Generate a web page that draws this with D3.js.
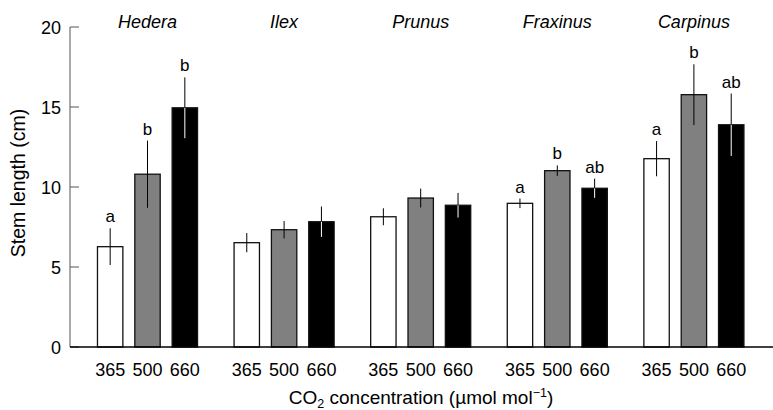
<!DOCTYPE html>
<html>
<head>
<meta charset="utf-8">
<script src="https://cdn.jsdelivr.net/npm/d3@7"></script>
<style>
  body { margin: 0; background: #fff; }
  text { font-family: "Liberation Sans", Arial, sans-serif; fill: #000; }
</style>
</head>
<body>
<div id="chart"></div>
<script>
const species = ["Hedera", "Ilex", "Prunus", "Fraxinus", "Carpinus"];
const co2 = ["365", "500", "660"];
// mean stem length (cm) per species, one value per CO2 level
const means = [
  [6.27, 10.8, 14.95],
  [6.52, 7.33, 7.83],
  [8.14, 9.31, 8.86],
  [8.98, 11.02, 9.92],
  [11.77, 15.77, 13.89]
];
const errors = [
  [1.15, 2.1, 1.9],
  [0.6, 0.54, 0.95],
  [0.53, 0.59, 0.77],
  [0.3, 0.33, 0.6],
  [1.1, 1.9, 1.95]
];
const letters = [
  ["a", "b", "b"],
  ["", "", ""],
  ["", "", ""],
  ["a", "b", "ab"],
  ["a", "b", "ab"]
];
const yTicks = [0, 5, 10, 15, 20];
const fills = ["#ffffff", "#808080", "#000000"];

const width = 773, height = 410;
const mLeft = 70, mBottom = 347, mTop = 27;

const svg = d3.select("#chart").append("svg")
  .attr("width", width).attr("height", height);

const y = d3.scaleLinear().domain([0, 20]).range([mBottom, mTop]);
const x0 = d3.scaleBand().domain(species).range([79.2, 762.2]);
const x1 = d3.scaleBand().domain(co2).range([0, 112])
  .paddingInner(0.32).paddingOuter(0.16);
const off = (x0.bandwidth() - 112) / 2;

// y axis
svg.append("line")
  .attr("x1", mLeft).attr("x2", mLeft)
  .attr("y1", y(20)).attr("y2", mBottom)
  .attr("stroke", "#555").attr("stroke-width", 1);
svg.append("g").selectAll("line").data(yTicks).enter().append("line")
  .attr("x1", mLeft).attr("x2", mLeft + 9)
  .attr("y1", d => y(d)).attr("y2", d => y(d))
  .attr("stroke", "#555");
svg.append("g").selectAll("text").data(yTicks).enter().append("text")
  .attr("x", 61).attr("y", d => y(d) + 6.5)
  .attr("text-anchor", "end").attr("font-size", "18px")
  .text(d => d);

svg.append("text")
  .attr("transform", "translate(25,183) rotate(-90)")
  .attr("text-anchor", "middle").attr("font-size", "19.5px")
  .text("Stem length (cm)");

// bars
const rows = [];
species.forEach((s, i) => co2.forEach((c, j) => rows.push({
  s, c, j, v: means[i][j], e: errors[i][j], l: letters[i][j]
})));
const bx = d => x0(d.s) + off + x1(d.c);

const g = svg.append("g");
g.selectAll("rect").data(rows).enter().append("rect")
  .attr("x", bx)
  .attr("y", d => y(d.v))
  .attr("width", x1.bandwidth())
  .attr("height", d => mBottom - y(d.v))
  .attr("fill", d => fills[d.j])
  .attr("stroke", "#111").attr("stroke-width", 1.3);

// error bars: black above the bar, white inside black bars
g.selectAll(".eup").data(rows).enter().append("line")
  .attr("x1", d => bx(d) + x1.bandwidth() / 2)
  .attr("x2", d => bx(d) + x1.bandwidth() / 2)
  .attr("y1", d => y(d.v + d.e)).attr("y2", d => y(d.v))
  .attr("stroke", "#000").attr("stroke-width", 1);
g.selectAll(".edown").data(rows).enter().append("line")
  .attr("x1", d => bx(d) + x1.bandwidth() / 2)
  .attr("x2", d => bx(d) + x1.bandwidth() / 2)
  .attr("y1", d => y(d.v)).attr("y2", d => y(d.v - d.e))
  .attr("stroke", d => d.j === 2 ? "#fff" : "#000").attr("stroke-width", 1);

g.selectAll(".letter").data(rows.filter(d => d.l)).enter().append("text")
  .attr("x", d => bx(d) + x1.bandwidth() / 2)
  .attr("y", d => y(d.v + d.e) - 6)
  .attr("text-anchor", "middle").attr("font-size", "17px")
  .text(d => d.l);

// x axis
svg.append("line")
  .attr("x1", mLeft).attr("x2", width)
  .attr("y1", mBottom).attr("y2", mBottom)
  .attr("stroke", "#000").attr("stroke-width", 1.3);
svg.append("g").selectAll("text").data(rows).enter().append("text")
  .attr("x", d => bx(d) + x1.bandwidth() / 2)
  .attr("y", 376)
  .attr("text-anchor", "middle").attr("font-size", "18px")
  .text(d => d.c);

svg.append("g").selectAll("text").data(species).enter().append("text")
  .attr("x", d => x0(d) + x0.bandwidth() / 2)
  .attr("y", 28)
  .attr("text-anchor", "middle").attr("font-size", "18px")
  .attr("font-style", "italic")
  .text(d => d);

const xt = svg.append("text")
  .attr("x", 421).attr("y", 404)
  .attr("text-anchor", "middle").attr("font-size", "19px");
xt.append("tspan").text("CO");
xt.append("tspan").attr("font-size", "12.5px").attr("dy", 4).text("2");
xt.append("tspan").attr("dy", -4).text(" concentration (\u00b5mol mol");
xt.append("tspan").attr("font-size", "12.5px").attr("dy", -7).text("\u22121");
xt.append("tspan").attr("dy", 7).text(")");
</script>
</body>
</html>
